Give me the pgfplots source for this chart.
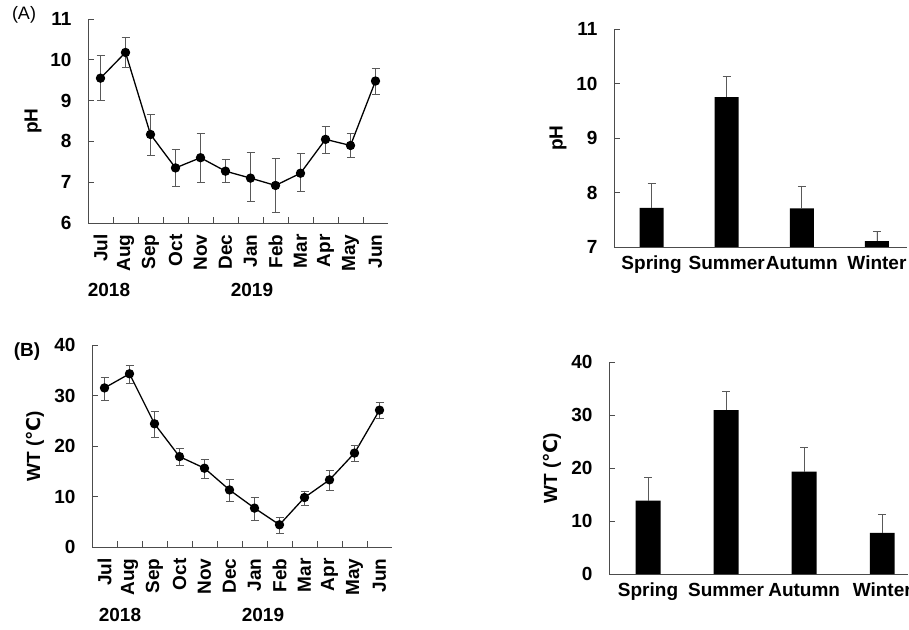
\documentclass[border=0pt]{standalone}
\usepackage{pgfplots}
\pgfplotsset{compat=1.18}
\usepackage{fontspec}
\setmainfont{Liberation Sans}
\newfontfamily\dejavu{DejaVu Sans}

\newcommand\lbl{\fontsize{19}{21}\selectfont\bfseries}

\pgfplotsset{
  panel/.style={
    scale only axis, anchor=south west,
    axis x line*=bottom, axis y line*=left,
    axis line style={draw=black!70, line width=0.9pt},
    tick style={draw=black!70, line width=0.9pt},
    tick align=inside, major tick length=6pt, minor tick length=6pt,
    ticklabel style={font=\lbl},
    yticklabel shift=13pt,
    /pgf/number format/assume math mode=true,
    label style={font=\lbl},
  },
  % rotated y label: its centre #1 to the left of the y axis
  ylab/.style={ylabel style={at={(axis description cs:0,0.5)}, anchor=center, yshift=#1}},
  months/.style={
    xmin=-0.5, xmax=11.5,
    xtick={0,...,11},
    xticklabels={Jul,Aug,Sep,Oct,Nov,Dec,Jan,Feb,Mar,Apr,May,Jun},
    major x tick style={draw=none},
    minor xtick={0.5,1.5,...,10.5},
    xticklabel style={rotate=90, anchor=east},
    xticklabel shift=8pt,
  },
  seasons/.style={
    ybar, bar width=0.32,
    xtick={0,1,2,3},
    xticklabels={Spring,Summer,Autumn,Winter},
    major x tick style={draw=none},
    xticklabel style={text height=1.4ex, text depth=0.45ex},
    xticklabel shift=6pt,
  },
  monthline/.style={
    black, line width=1.3pt, mark=*, mark size=4pt,
    mark options={fill=black, solid},
    error bars/.cd, y dir=both, y explicit,
    error bar style={draw=black!65, line width=0.8pt},
    error mark options={rotate=90, mark size=4pt, draw=black!65, line width=0.8pt},
  },
  seasonbar/.style={
    fill=black, draw=none,
    error bars/.cd, y dir=plus, y explicit,
    error bar style={draw=black!65, line width=0.8pt},
    error mark options={rotate=90, mark size=4pt, draw=black!65, line width=0.8pt},
  },
}

\begin{document}
\begin{tikzpicture}
\useasboundingbox (0,0) rectangle (909pt,629pt);

% (A) pH by month
\begin{axis}[panel, months, ylab=55pt,
    at={(88pt,406pt)}, width=300pt, height=204pt,
    ymin=6, ymax=11, ytick={6,7,8,9,10,11},
    ylabel={pH}]
\addplot[monthline] coordinates {
    (0,9.55) += (0,0.55) -= (0,0.55)
    (1,10.18) += (0,0.37) -= (0,0.36)
    (2,8.17) += (0,0.48) -= (0,0.52)
    (3,7.35) += (0,0.45) -= (0,0.45)
    (4,7.60) += (0,0.60) -= (0,0.60)
    (5,7.27) += (0,0.28) -= (0,0.28)
    (6,7.10) += (0,0.62) -= (0,0.57)
    (7,6.92) += (0,0.66) -= (0,0.67)
    (8,7.22) += (0,0.48) -= (0,0.44)
    (9,8.05) += (0,0.32) -= (0,0.34)
    (10,7.90) += (0,0.30) -= (0,0.30)
    (11,9.48) += (0,0.32) -= (0,0.33)
};
\end{axis}

% pH by season
\begin{axis}[panel, seasons, ylab=56pt,
    at={(614pt,382pt)}, width=293pt, height=218pt,
    xmin=-0.5, xmax=3.4,
    ymin=7, ymax=11, ytick={7,8,9,10,11},
    ylabel={pH}]
\addplot[seasonbar] coordinates {
    (0,7.72) += (0,0.45)
    (1,9.75) += (0,0.38)
    (2,7.71) += (0,0.41)
    (3,7.11) += (0,0.18)
};
\end{axis}

% (B) water temperature by month
\begin{axis}[panel, months, ylab=57pt,
    at={(92pt,82pt)}, width=300pt, height=202pt,
    ymin=0, ymax=40, ytick={0,10,20,30,40},
    ylabel={WT ({\dejavu\bfseries ℃})}]
\addplot[monthline] coordinates {
    (0,31.5) += (0,2.1) -= (0,2.4)
    (1,34.3) += (0,1.7) -= (0,1.9)
    (2,24.4) += (0,2.5) -= (0,2.6)
    (3,17.9) += (0,1.6) -= (0,1.7)
    (4,15.6) += (0,1.8) -= (0,2.0)
    (5,11.3) += (0,2.0) -= (0,2.3)
    (6,7.7) += (0,2.1) -= (0,2.4)
    (7,4.4) += (0,1.4) -= (0,1.8)
    (8,9.8) += (0,1.3) -= (0,1.6)
    (9,13.3) += (0,1.9) -= (0,2.0)
    (10,18.6) += (0,1.6) -= (0,1.6)
    (11,27.1) += (0,1.6) -= (0,1.6)
};
\end{axis}

% water temperature by season
\begin{axis}[panel, seasons, ylab=57pt,
    at={(609pt,55pt)}, width=299pt, height=212pt,
    xmin=-0.5, xmax=3.33,
    ymin=0, ymax=40, ytick={0,10,20,30,40},
    ylabel={WT ({\dejavu\bfseries ℃})}]
\addplot[seasonbar] coordinates {
    (0,13.85) += (0,4.4)
    (1,30.9) += (0,3.6)
    (2,19.3) += (0,4.6)
    (3,7.75) += (0,3.5)
};
\end{axis}

\node[font=\lbl] at (109pt,339pt) {2018};
\node[font=\lbl] at (252pt,339pt) {2019};
\node[font=\lbl] at (120pt,14pt) {2018};
\node[font=\lbl] at (263pt,14pt) {2019};
\node[font=\fontsize{18}{20}\selectfont] at (24pt,614pt) {(A)};
\node[font=\lbl] at (27pt,277pt) {(B)};
\end{tikzpicture}
\end{document}
